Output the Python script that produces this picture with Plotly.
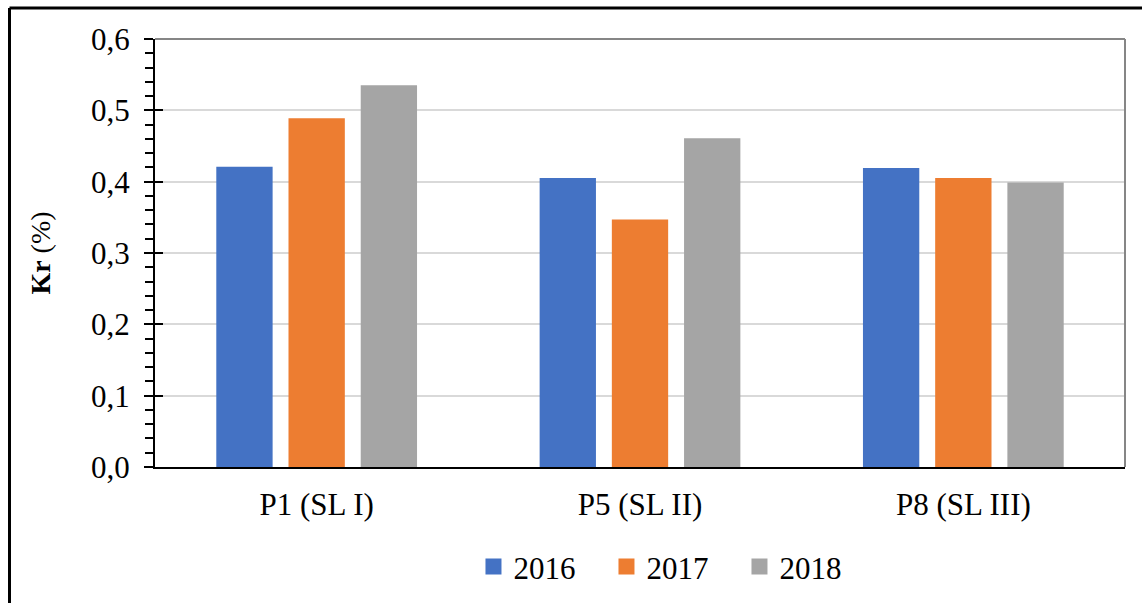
import plotly.graph_objects as go

categories = ["P1 (SL I)", "P5 (SL II)", "P8 (SL III)"]
years = ["2016", "2017", "2018"]
kr_2016 = [0.421, 0.405, 0.419]
kr_2017 = [0.489, 0.347, 0.405]
kr_2018 = [0.535, 0.461, 0.399]
colors = ["#4472C4", "#ED7D31", "#A5A5A5"]

W, H = 1142, 603
ml, mr, mt, mb = 155, 17, 39, 136
pw = W - ml - mr
ph = H - mt - mb
font = "Times New Roman, Liberation Serif, serif"

fig = go.Figure()
for year, vals, col in zip(years, [kr_2016, kr_2017, kr_2018], colors):
    fig.add_trace(go.Bar(x=categories, y=vals, name=year, marker_color=col,
                         marker_line_width=0, showlegend=False))
    # legend-only entry with a larger square swatch
    fig.add_trace(go.Scatter(x=[None], y=[None], mode="markers", name=year,
                             marker=dict(symbol="square", size=16, color=col)))

# invisible trace so the overlaying axis (inner half of crossing ticks) is drawn
fig.add_trace(go.Scatter(x=[categories[0]], y=[0], yaxis="y2", mode="markers",
                         marker_opacity=0, showlegend=False, hoverinfo="skip"))

fig.update_layout(
    width=W, height=H,
    margin=dict(l=ml, r=mr, t=mt, b=mb, autoexpand=False),
    paper_bgcolor="white", plot_bgcolor="white",
    font=dict(family=font, color="black", size=31),
    barmode="group", bargap=0.33, bargroupgap=0.22,
    showlegend=True,
    legend=dict(orientation="h", x=0.534, xanchor="center", y=-0.17, yanchor="top",
                font=dict(size=31), entrywidth=88, traceorder="normal"),
    xaxis=dict(showline=True, linecolor="black", linewidth=2, ticks="",
               ticklabelstandoff=9, tickfont=dict(size=31), automargin=False),
    yaxis=dict(range=[0, 0.6], dtick=0.1, tickformat=".1f", showline=True,
               linecolor="black", linewidth=2, ticks="outside", ticklen=9,
               tickwidth=2, tickcolor="black", gridcolor="#D9D9D9", gridwidth=2,
               minor=dict(dtick=0.02, ticks="outside", ticklen=8, tickwidth=2,
                          tickcolor="black", showgrid=False),
               ticklabelstandoff=8, tickfont=dict(size=31), automargin=False,
               title=dict(text="<b>Kr</b> (%)", font=dict(size=28), standoff=32),
               zeroline=False),
    yaxis2=dict(range=[0, 0.6], overlaying="y", side="left", dtick=0.1,
                ticks="inside", ticklen=8, tickwidth=2, tickcolor="black",
                showticklabels=False, showgrid=False, zeroline=False,
                showline=False, automargin=False),
    separators=",.",
)

# gray top and right plot-area border
fig.add_shape(type="line", xref="paper", yref="paper", x0=0, x1=1, y0=1, y1=1,
              line=dict(color="#868686", width=2))
fig.add_shape(type="line", xref="paper", yref="paper", x0=1, x1=1, y0=0, y1=1,
              line=dict(color="#868686", width=2))

# outer chart frame (left and top edges visible)
fx = (9.5 - ml) / pw
fy = (H - mb - 8) / ph
fig.add_shape(type="line", xref="paper", yref="paper", x0=fx, x1=fx, y0=fy, y1=-0.5,
              line=dict(color="black", width=3))
fig.add_shape(type="line", xref="paper", yref="paper", x0=fx, x1=1.2, y0=fy, y1=fy,
              line=dict(color="black", width=3))

fig.write_html("out.html", config={"displayModeBar": False},
               post_script="document.body.style.margin='0';"
                           "document.body.style.overflow='hidden';")
